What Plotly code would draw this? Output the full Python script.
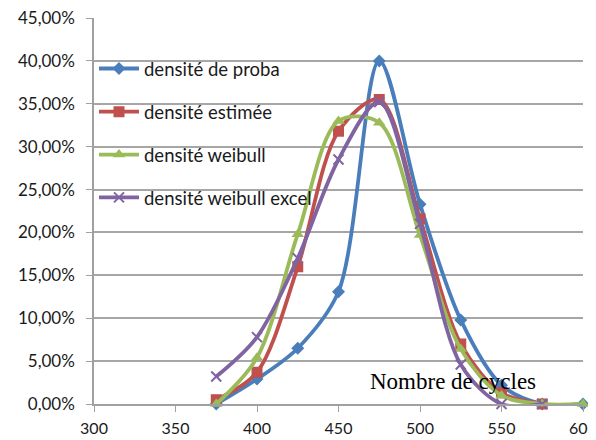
import plotly.graph_objects as go

cycles = [375, 400, 425, 450, 475, 500, 525, 550, 575, 600]
proba = [0.0, 0.029, 0.065, 0.131, 0.400, 0.233, 0.098, 0.022, 0.0, 0.0]
estimee = [0.005, 0.037, 0.160, 0.318, 0.355, 0.216, 0.070, 0.013, 0.0]
weibull = [0.0, 0.054, 0.198, 0.330, 0.328, 0.197, 0.064, 0.010, 0.0, 0.0]
weibull_excel = [0.032, 0.078, 0.170, 0.285, 0.352, 0.210, 0.046, 0.0, 0.0]

names = ["densité de proba", "densité estimée", "densité weibull", "densité weibull excel"]
colors = ["#4A7EBB", "#C0504D", "#9BBB59", "#8064A2"]
symbols = ["diamond", "square", "triangle-up", "x-thin"]
sizes = [10, 11, 11, 10]
series = [proba, estimee, weibull, weibull_excel]
legend_ids = ["legend", "legend2", "legend3", "legend4"]
legend_y = [0.868, 0.756, 0.645, 0.534]

font_main = "Lato, Open Sans, sans-serif"
fig = go.Figure()
for name, col, sym, sz, ys, lid in zip(names, colors, symbols, sizes, series, legend_ids):
    fig.add_trace(go.Scatter(
        x=cycles[:len(ys)], y=ys, name=name, mode="lines+markers", legend=lid,
        line=dict(color=col, width=3.8, shape="spline", smoothing=0.9),
        marker=dict(symbol=sym, size=sz, color=col,
                    line=dict(color=col, width=2 if sym == "x-thin" else 0)),
        cliponaxis=False,
    ))

legend_common = dict(x=0.0, xanchor="left", yanchor="middle",
                     bgcolor="rgba(0,0,0,0)", itemwidth=40,
                     font=dict(family=font_main, size=18.5, color="#1a1a1a"))
layout_legends = {lid: dict(legend_common, y=ly) for lid, ly in zip(legend_ids, legend_y)}

fig.update_layout(
    width=588, height=432,
    margin=dict(l=86, r=13, t=10, b=36, autoexpand=False),
    paper_bgcolor="white", plot_bgcolor="white",
    separators=", ",
    font=dict(family=font_main, size=17, color="#1a1a1a"),
    showlegend=True,
    xaxis=dict(range=[300, 600], dtick=50, tick0=300, showgrid=False,
               showline=True, linecolor="#a0a0a0", linewidth=1.5,
               ticks="outside", ticklen=6, tickcolor="#a0a0a0",
               zeroline=False, tickfont=dict(size=16), automargin=False,
               ticklabeloverflow="allow", ticklabelstandoff=3),
    yaxis=dict(range=[0, 0.45], dtick=0.05, tickformat=".2%",
               showgrid=True, gridcolor="#a6a6a6", gridwidth=1.5,
               showline=True, linecolor="#a0a0a0", linewidth=1.5,
               ticks="outside", ticklen=6, tickcolor="#a0a0a0",
               zeroline=False, tickfont=dict(size=17), automargin=False,
               ticklabeloverflow="allow", ticklabelstandoff=8),
    annotations=[dict(text="Nombre de cycles", x=520, y=0.026, xref="x", yref="y",
                      showarrow=False, font=dict(family="Liberation Serif", size=23, color="black"))],
    **layout_legends,
)

fig.write_html("out.html")
